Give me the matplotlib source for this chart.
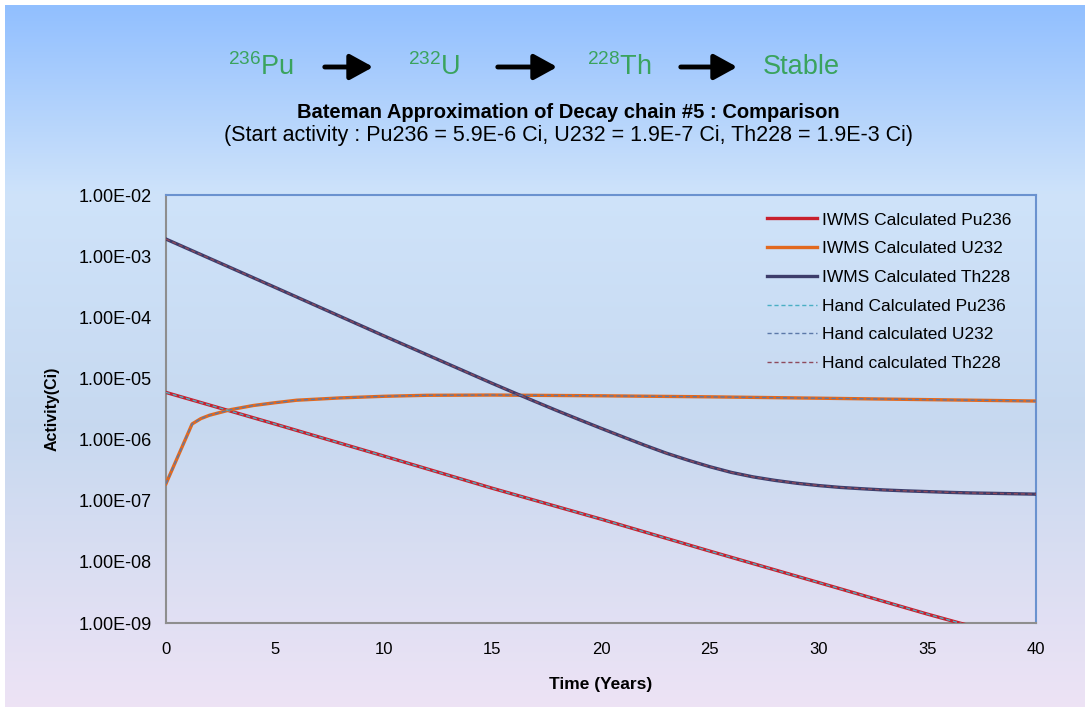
import numpy as np
import matplotlib
matplotlib.use('Agg')
import matplotlib.pyplot as plt
from matplotlib.colors import LinearSegmentedColormap

plt.rcParams['font.family'] = ['Liberation Sans', 'DejaVu Sans']
plt.rcParams['mathtext.default'] = 'regular'

# valores (anos, Ci)
t_pu = [0, 5, 10, 15, 20, 25, 30, 35, 37]
pu236 = [5.9e-6, 1.8e-6, 5.4e-7, 1.6e-7, 5.0e-8, 1.5e-8, 4.6e-9, 1.4e-9, 8.9e-10]

t_u = [0, 1.2, 1.6, 2, 3, 4, 5, 6, 8, 10, 12, 15, 20, 25, 30, 35, 40]
u232 = [1.9e-7, 1.8e-6, 2.2e-6, 2.5e-6, 3.1e-6, 3.6e-6, 4.0e-6, 4.4e-6, 4.8e-6, 5.1e-6,
        5.3e-6, 5.35e-6, 5.2e-6, 5.0e-6, 4.75e-6, 4.5e-6, 4.27e-6]

t_th = [0, 5, 10, 15, 16, 17, 18, 19, 20, 21, 22, 23, 24, 25, 26, 27, 28, 29, 30,
        31, 32, 33, 34, 35, 36, 37, 38, 39, 40]
th228 = [1.9e-3, 3.1e-4, 5.0e-5, 8.3e-6, 5.85e-6, 4.15e-6, 2.95e-6, 2.12e-6, 1.53e-6,
         1.11e-6, 8.1e-7, 6.0e-7, 4.6e-7, 3.6e-7, 2.9e-7, 2.45e-7, 2.15e-7, 1.93e-7,
         1.77e-7, 1.65e-7, 1.57e-7, 1.5e-7, 1.45e-7, 1.41e-7, 1.37e-7, 1.34e-7,
         1.32e-7, 1.3e-7, 1.28e-7]

# calculo manual coincide com o IWMS no grafico
hand_pu236 = pu236
hand_u232 = u232
hand_th228 = th228

x_ticks = [0, 5, 10, 15, 20, 25, 30, 35, 40]
y_ticks = [1e-9, 1e-8, 1e-7, 1e-6, 1e-5, 1e-4, 1e-3, 1e-2]
y_labels = ['1.00E-09', '1.00E-08', '1.00E-07', '1.00E-06',
            '1.00E-05', '1.00E-04', '1.00E-03', '1.00E-02']

W, H = 1089, 711
fig = plt.figure(figsize=(W / 100, H / 100), dpi=100, facecolor='white')

# fundo em degrade
bg = fig.add_axes([5 / W, 4 / H, 1080 / W, 702 / H])
cmap = LinearSegmentedColormap.from_list('fundo', [
    (0.0, (0.57, 0.75, 1.0)),
    (0.27, (0.81, 0.89, 0.98)),
    (0.6, (0.78, 0.85, 0.94)),
    (1.0, (0.93, 0.89, 0.96))])
grad = np.linspace(0, 1, 256).reshape(-1, 1)
bg.imshow(grad, aspect='auto', cmap=cmap, extent=[0, 1, 0, 1], origin='upper')
bg.set_axis_off()

ax = fig.add_axes([166 / W, (H - 623) / H, 870 / W, 428 / H])
ax.set_facecolor('none')

ax.plot(t_pu, pu236, color='#C8202E', lw=2.4, label='IWMS Calculated Pu236', zorder=3)
ax.plot(t_u, u232, color='#E2691F', lw=2.4, label='IWMS Calculated U232', zorder=3)
ax.plot(t_th, th228, color='#3D3D6B', lw=2.4, label='IWMS Calculated Th228', zorder=3)
ax.plot(t_pu, hand_pu236, color='#4AAFC4', lw=1.0, ls=(0, (3, 2)), label='Hand Calculated Pu236', zorder=4)
ax.plot(t_u, hand_u232, color='#5B78A8', lw=1.0, ls=(0, (3, 2)), label='Hand calculated U232', zorder=4)
ax.plot(t_th, hand_th228, color='#8E4A5C', lw=1.0, ls=(0, (3, 2)), label='Hand calculated Th228', zorder=4)

ax.set_yscale('log')
ax.set_xlim(0, 40)
ax.set_ylim(1e-9, 1e-2)
ax.set_xticks(x_ticks)
ax.set_xticklabels([str(v) for v in x_ticks], fontsize=12)
ax.set_yticks(y_ticks)
ax.set_yticklabels(y_labels, fontsize=13)
ax.yaxis.set_minor_locator(matplotlib.ticker.NullLocator())
ax.tick_params(axis='x', length=0, pad=14)
ax.tick_params(axis='y', length=0, pad=10)

for s in ['left', 'bottom']:
    ax.spines[s].set_color('#8E8E8E')
    ax.spines[s].set_linewidth(1.5)
for s in ['top', 'right']:
    ax.spines[s].set_color('#6A92CF')
    ax.spines[s].set_linewidth(1.5)

ax.set_xlabel('Time (Years)', fontsize=12.5, fontweight='bold', labelpad=14)
ax.set_ylabel('Activity(Ci)', fontsize=11.5, fontweight='bold', labelpad=14)

leg = ax.legend(loc='upper right', frameon=False, fontsize=12.5, handlelength=2.9,
                handletextpad=0.3, labelspacing=0.78, borderaxespad=0.6,
                bbox_to_anchor=(0.992, 1.0))

# titulo
fig.text(568 / W, 1 - 113 / H, 'Bateman Approximation of Decay chain #5 : Comparison',
         ha='center', va='center', fontsize=14.5, fontweight='bold')
fig.text(568 / W, 1 - 135 / H,
         '(Start activity : Pu236 = 5.9E-6 Ci, U232 = 1.9E-7 Ci, Th228 = 1.9E-3 Ci)',
         ha='center', va='center', fontsize=15.5)

# cadeia de decaimento
verde = '#3AA35E'
nuclideos = [(261, r'$^{236}$Pu'), (434, r'$^{232}$U'), (619, r'$^{228}$Th'), (801, 'Stable')]
for xc, txt in nuclideos:
    fig.text(xc / W, 1 - 67 / H, txt, ha='center', va='center', fontsize=19.5,
             color=verde)
for x0, x1 in [(322, 376), (495, 560), (678, 740)]:
    fig.patches.append(matplotlib.patches.FancyArrowPatch(
        (x0 / W, 1 - 67 / H), (x1 / W, 1 - 67 / H), transform=fig.transFigure,
        arrowstyle='-|>,head_length=1.0,head_width=0.55', mutation_scale=14,
        lw=3.5, color='black'))

fig.savefig('out.png', dpi=100, facecolor='white')
